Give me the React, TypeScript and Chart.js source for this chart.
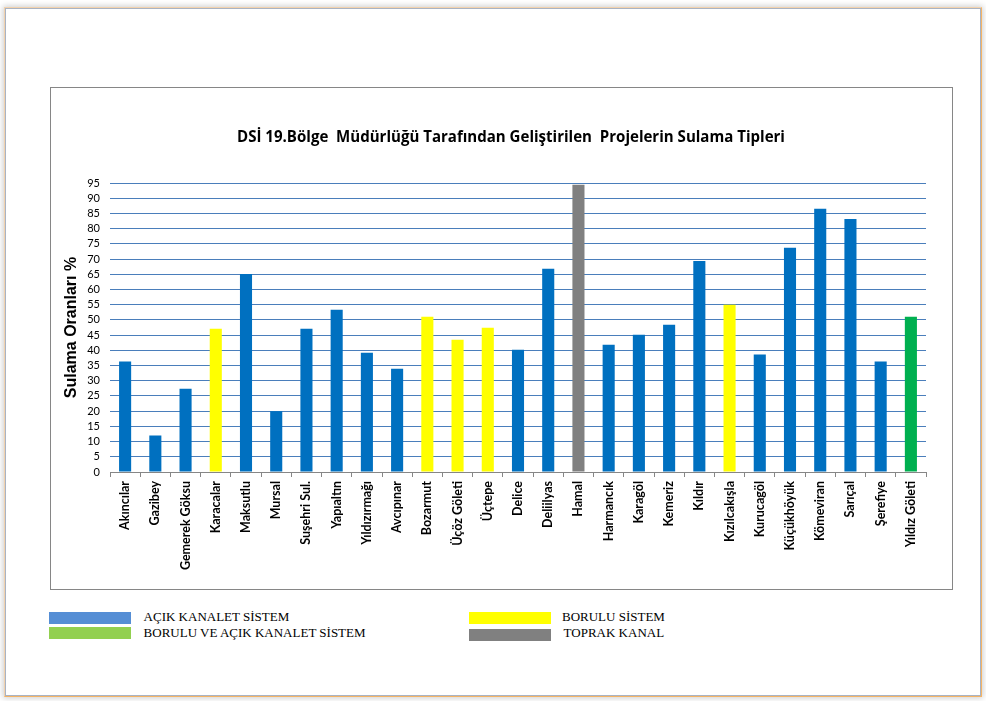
import React, { useEffect, useRef } from 'react';
import { Chart, registerables } from 'chart.js';

Chart.register(...registerables);

if (typeof document !== 'undefined' && document.body) {
  document.body.style.margin = '0';
}

const chartTitle = 'DSİ 19.Bölge  Müdürlüğü Tarafından Geliştirilen  Projelerin Sulama Tipleri';
const yAxisTitle = 'Sulama Oranları %';

const categories = [
  'Akıncılar', 'Gazibey', 'Gemerek Göksu', 'Karacalar', 'Maksutlu', 'Mursal', 'Suşehri Sul.',
  'Yapıaltın', 'Yıldızırmağı', 'Avcıpınar', 'Bozarmut', 'Üçöz Göleti', 'Üçtepe', 'Delice',
  'Deliilyas', 'Hamal', 'Harmancık', 'Karagöl', 'Kemeriz', 'Kıldır', 'Kızılcakışla',
  'Kurucagöl', 'Küçükhöyük', 'Kömeviran', 'Sarıçal', 'Şerefiye', 'Yıldız Göleti',
];

const values = [
  36.3, 12, 27.4, 47.1, 65.1, 20, 47.1,
  53.3, 39.2, 33.9, 51, 43.5, 47.4, 40.2,
  66.8, 94.4, 41.8, 45.1, 48.4, 69.4, 55,
  38.6, 73.7, 86.5, 83.2, 36.3, 51,
];

// irrigation type per project
const types = [
  'acik', 'acik', 'acik', 'borulu', 'acik', 'acik', 'acik',
  'acik', 'acik', 'acik', 'borulu', 'borulu', 'borulu', 'acik',
  'acik', 'toprak', 'acik', 'acik', 'acik', 'acik', 'borulu',
  'acik', 'acik', 'acik', 'acik', 'acik', 'karma',
];

const barColors: Record<string, string> = {
  acik: '#0070C0',
  borulu: '#FFFF00',
  toprak: '#808080',
  karma: '#00B050',
};

const legendLabels = ['AÇIK KANALET SİSTEM', 'BORULU VE AÇIK KANALET SİSTEM', 'BORULU SİSTEM', 'TOPRAK KANAL'];
const legendColors = ['#558ED5', '#92D050', '#FFFF00', '#808080'];

const yMin = 0;
const yMax = 95;
const yStep = 5;

const titlePlugin = {
  id: 'customTitle',
  afterDraw(chart: any) {
    const ctx = chart.ctx;
    ctx.save();
    const family = '"Open Sans", Lato, sans-serif';
    ctx.font = `bold 15px ${family}`;
    const w = ctx.measureText(chartTitle).width;
    const size = Math.min(17, Math.max(12, (15 * 548) / w));
    ctx.font = `bold ${size.toFixed(2)}px ${family}`;
    ctx.fillStyle = '#000';
    ctx.textAlign = 'center';
    ctx.textBaseline = 'alphabetic';
    ctx.fillText(chartTitle, 460, 54);
    ctx.restore();
  },
};

function ChartCanvas() {
  const ref = useRef<HTMLCanvasElement | null>(null);
  useEffect(() => {
    if (!ref.current) return;
    const chart = new Chart(ref.current, {
      type: 'bar',
      data: {
        labels: categories,
        datasets: [
          {
            data: values,
            backgroundColor: types.map((t) => barColors[t]),
            borderWidth: 0,
            categoryPercentage: 1,
            barPercentage: 0.4,
          },
        ],
      },
      options: {
        animation: false,
        responsive: false,
        maintainAspectRatio: false,
        layout: { padding: { left: 7, right: 26, top: 95, bottom: 17 } },
        plugins: {
          legend: { display: false },
          title: { display: false },
          tooltip: { enabled: false },
        },
        scales: {
          x: {
            grid: {
              display: true,
              drawOnChartArea: false,
              drawTicks: true,
              tickLength: 5,
              color: '#868686',
              offset: true,
            },
            border: { display: true, color: '#868686', width: 1 },
            ticks: {
              autoSkip: false,
              maxRotation: 90,
              minRotation: 90,
              padding: 4,
              color: '#000',
              font: { family: 'Lato', weight: 'bold', size: 12.5 },
            },
            afterFit(scale: any) {
              scale.height = 100;
            },
          },
          y: {
            min: yMin,
            max: yMax,
            grid: {
              drawTicks: false,
              color: (ctx: any) => (ctx.tick && ctx.tick.value === 0 ? '#868686' : '#4A7EBB'),
              lineWidth: 1,
            },
            border: { display: false },
            ticks: {
              stepSize: yStep,
              autoSkip: false,
              maxTicksLimit: 40,
              padding: 10,
              color: '#000',
              font: { family: 'Lato', size: 11 },
            },
            title: {
              display: true,
              text: yAxisTitle,
              color: '#000',
              font: { family: 'Liberation Sans', size: 16, weight: 'bold' },
              padding: { top: 4, bottom: 0 },
            },
            afterFit(scale: any) {
              scale.width = 52;
            },
          },
        },
      },
      plugins: [titlePlugin],
    });
    return () => chart.destroy();
  }, []);
  return <canvas ref={ref} width={901} height={501} style={{ display: 'block', width: 901, height: 501 }} />;
}

export default function App() {
  const legendPos = [
    { sx: 49, sy: 612, tx: 143.6, ty: 609.7 },
    { sx: 49, sy: 627, tx: 143.6, ty: 626 },
    { sx: 468.6, sy: 612, tx: 562, ty: 609.7 },
    { sx: 468.6, sy: 629, tx: 563.6, ty: 626 },
  ];
  return (
    <div style={{ position: 'relative', width: 986, height: 701, overflow: 'hidden', background: '#fff' }}>
      <div
        style={{
          position: 'absolute',
          left: 4,
          top: 7,
          width: 978,
          height: 690,
          boxSizing: 'border-box',
          borderTop: '1px solid #F2D2AE',
          borderLeft: '1px solid #F2D2AE',
          borderRight: '1px solid #F5B465',
          borderBottom: '1px solid #F5B465',
          boxShadow: 'inset 0 0 0 1px #A9B3C3, 0 0 6px 1px rgba(0,0,0,0.2)',
          background: '#fff',
        }}
      />
      <div
        style={{
          position: 'absolute',
          left: 50,
          top: 87,
          width: 903,
          height: 503,
          boxSizing: 'border-box',
          border: '1px solid #868686',
          background: '#fff',
        }}
      >
        <ChartCanvas />
      </div>
      {legendLabels.map((label, i) => (
        <React.Fragment key={label}>
          <div
            style={{
              position: 'absolute',
              left: legendPos[i].sx,
              top: legendPos[i].sy,
              width: 82,
              height: 12,
              background: legendColors[i],
            }}
          />
          <div
            style={{
              position: 'absolute',
              left: legendPos[i].tx,
              top: legendPos[i].ty,
              fontFamily: '"Liberation Serif", "Times New Roman", serif',
              fontSize: 13,
              lineHeight: '13px',
              color: '#000',
              whiteSpace: 'nowrap',
            }}
          >
            {label}
          </div>
        </React.Fragment>
      ))}
    </div>
  );
}
